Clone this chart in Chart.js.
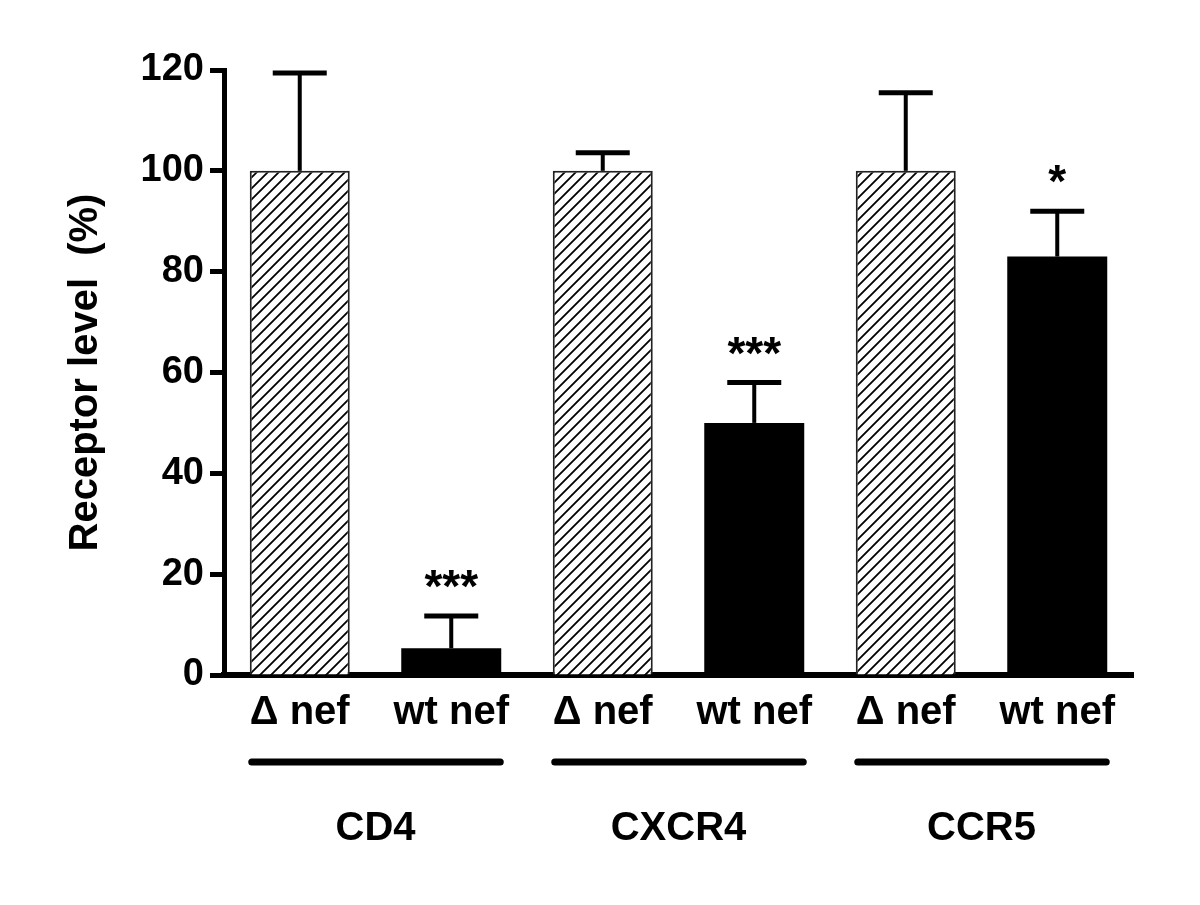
<!DOCTYPE html>
<html>
<head>
<meta charset="utf-8">
<script src="https://cdn.jsdelivr.net/npm/chart.js@4/dist/chart.umd.min.js"></script>
<style>
  body { margin: 0; background: #fff; }
  #wrap { width: 1200px; height: 905px; }
</style>
</head>
<body>
<div id="wrap"><canvas id="barChart" width="1200" height="905"></canvas></div>
<script>
// values
const labels = ["\u0394 nef", "wt nef", "\u0394 nef", "wt nef", "\u0394 nef", "wt nef"];
const levels = [100, 5.3, 100, 50, 100, 83];
const errors = [19.4, 6.4, 3.6, 8, 15.5, 9];
const stars = ["", "***", "", "***", "", "*"];
const groups = ["CD4", "CXCR4", "CCR5"];
const yTicks = [0, 20, 40, 60, 80, 100, 120];

const FONT = '"Liberation Sans", Arial, sans-serif';

// diagonal hatch for the delta nef bars
function makeHatch() {
  const c = document.createElement("canvas");
  c.width = 11;
  c.height = 11;
  const g = c.getContext("2d");
  g.fillStyle = "#fff";
  g.fillRect(0, 0, 11, 11);
  g.strokeStyle = "#000";
  g.lineWidth = 1.8;
  g.beginPath();
  g.moveTo(-1, 12); g.lineTo(12, -1);
  g.moveTo(-2, 2); g.lineTo(2, -2);
  g.moveTo(9, 13); g.lineTo(13, 9);
  g.stroke();
  return g.createPattern(c, "repeat");
}

const ctx = document.getElementById("barChart");
const hatch = makeHatch();
const fills = levels.map((v, i) => (i % 2 === 0 ? hatch : "#000"));
const borders = levels.map((v, i) => (i % 2 === 0 ? 2 : 0));

// error bars, asterisks, group lines and names
const extras = {
  id: "extras",
  afterDatasetsDraw(chart) {
    const c = chart.ctx;
    const xs = chart.scales.x;
    const ys = chart.scales.y;
    const bottom = chart.chartArea.bottom;
    c.save();
    c.strokeStyle = "#000";
    c.fillStyle = "#000";
    levels.forEach((v, i) => {
      const x = xs.getPixelForValue(i);
      const y0 = ys.getPixelForValue(v);
      const y1 = ys.getPixelForValue(v + errors[i]);
      c.lineWidth = 4;
      c.beginPath();
      c.moveTo(x, y0);
      c.lineTo(x, y1);
      c.stroke();
      c.lineWidth = 5;
      c.beginPath();
      c.moveTo(x - 27, y1);
      c.lineTo(x + 27, y1);
      c.stroke();
      if (stars[i]) {
        c.font = "bold 46px " + FONT;
        c.textAlign = "center";
        c.textBaseline = "alphabetic";
        c.fillText(stars[i], x, y1 - 14);
      }
    });
    groups.forEach((name, g) => {
      const xa = xs.getPixelForValue(g * 2);
      const xb = xs.getPixelForValue(g * 2 + 1);
      c.lineWidth = 7;
      c.lineCap = "round";
      c.beginPath();
      c.moveTo(xa - 48, bottom + 87);
      c.lineTo(xb + 49, bottom + 87);
      c.stroke();
      c.font = "bold 40px " + FONT;
      c.textAlign = "center";
      c.textBaseline = "alphabetic";
      c.fillText(name, (xa + xb) / 2, bottom + 165);
    });
    c.restore();
  },
};

const myChart = new Chart(ctx, {
  type: "bar",
  data: {
    labels: labels,
    datasets: [
      {
        data: levels,
        backgroundColor: fills,
        borderColor: "#222",
        borderWidth: borders,
        barPercentage: 0.66,
        categoryPercentage: 1,
      },
    ],
  },
  options: {
    responsive: false,
    animation: false,
    layout: { padding: { left: 58, right: 67, top: 70, bottom: 0 } },
    plugins: {
      legend: { display: false },
      tooltip: { enabled: false },
    },
    scales: {
      x: {
        offset: true,
        grid: { display: false, drawTicks: false },
        border: { display: true, width: 6, color: "#000" },
        ticks: {
          color: "#000",
          padding: 14,
          maxRotation: 0,
          autoSkip: false,
          font: { family: FONT, size: 40, weight: "bold" },
        },
        afterFit(scale) {
          scale.height = 230;
        },
      },
      y: {
        min: 0,
        max: 120,
        afterBuildTicks(scale) {
          scale.ticks = yTicks.map((v) => ({ value: v }));
        },
        grid: {
          drawOnChartArea: false,
          drawTicks: true,
          tickLength: 14,
          tickWidth: 5,
          color: "#000",
        },
        border: { display: true, width: 5, color: "#000" },
        ticks: {
          color: "#000",
          padding: 6,
          font: { family: FONT, size: 38, weight: "bold" },
        },
        title: {
          display: true,
          text: "Receptor level  (%)",
          color: "#000",
          font: { family: FONT, size: 40, weight: "bold" },
        },
        afterFit(scale) {
          scale.width = 166;
        },
      },
    },
  },
  plugins: [extras],
});
</script>
</body>
</html>
